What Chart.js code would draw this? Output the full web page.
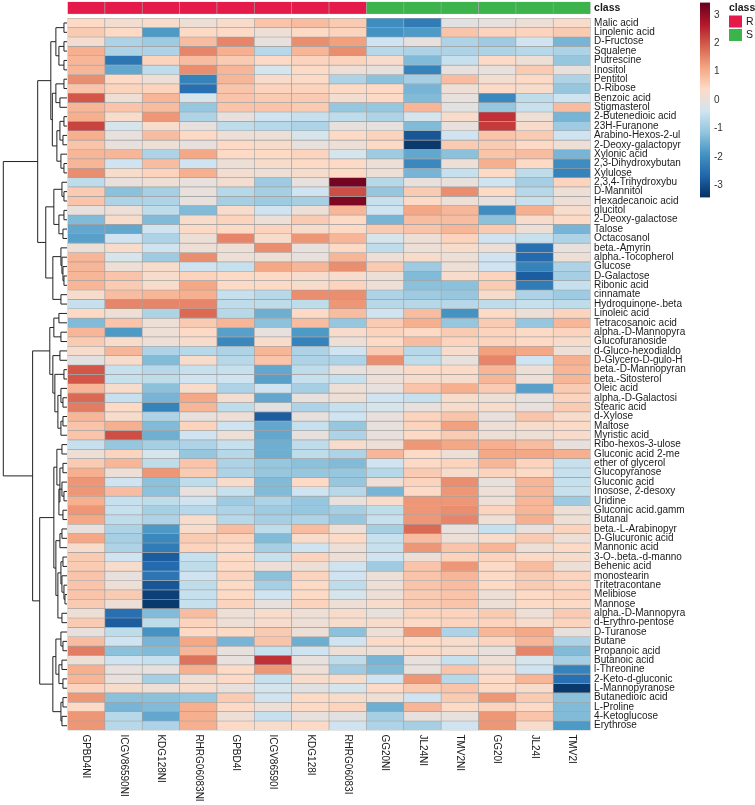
<!DOCTYPE html>
<html>
<head>
<meta charset="utf-8">
<script src="https://cdn.jsdelivr.net/npm/chart.js@4.4.1/dist/chart.umd.min.js"></script>
<style>
  html, body { margin: 0; padding: 0; background: #ffffff; }
  #wrap { width: 755px; height: 805px; position: relative; }
</style>
</head>
<body>
<div id="wrap"><canvas id="c" width="755" height="805"></canvas></div>
<script>
// ---------------- data ----------------
const colNames = ["GPBD4NI","ICGV86590NI","KDG128NI","RHRG06083NI","GPBD4I","ICGV86590I","KDG128I","RHRG06083I","GG20NI","JL24NI","TMV2NI","GG20I","JL24I","TMV2I"];
const colClass = ["R","R","R","R","R","R","R","R","S","S","S","S","S","S"];
const classNames = ["R","S"];
const classColors = ["#e6194b","#3cb44b"];

const rowNames = ["Malic acid","Linolenic acid","D-Fructose","Squalene","Putrescine","Inositol","Pentitol","D-Ribose","Benzoic acid","Stigmasterol","2-Butenedioic acid","23H-Furanone","Arabino-Hexos-2-ul","2-Deoxy-galactopyr","Xylonic acid","2,3-Dihydroxybutan","Xylulose","2,3,4-Trihydroxybu","D-Mannitol","Hexadecanoic acid","glucitol","2-Deoxy-galactose","Talose","Octacosanol","beta.-Amyrin","alpha.-Tocopherol","Glucose","D-Galactose","Ribonic acid","cinnamate","Hydroquinone-.beta","Linoleic acid","Tetracosanoic acid","alpha.-D-Mannopyra","Glucofuranoside","d-Gluco-hexodialdo","D-Glycero-D-gulo-H","beta.-D-Mannopyran","beta.-Sitosterol","Oleic acid","alpha.-D-Galactosi","Stearic acid","d-Xylose","Maltose","Myristic acid","Ribo-hexos-3-ulose","Gluconic acid 2-me","ether of glycerol","Glucopyranose","Gluconic acid","Inosose, 2-desoxy","Uridine","Gluconic acid.gamm","Butanal","beta.-L-Arabinopyr","D-Glucuronic acid","Mannonic acid","3-O-.beta.-d-manno","Behenic acid","monostearin","Tritetracontane","Melibiose","Mannose","alpha.-D-Mannopyra","d-Erythro-pentose","D-Turanose","Butane","Propanoic acid","Butanoic acid","l-Threonine","2-Keto-d-gluconic","L-Mannopyranose","Butanedioic acid","L-Proline","4-Ketoglucose","Erythrose"];

// scaled abundance, one row per metabolite, columns in colNames order
const heatValues = [
[0.4,0.2,0.3,0.1,0.3,0.7,0.8,0.6,-2.0,-2.3,-0.1,0.0,0.1,0.3],
[0.6,0.4,-1.8,0.4,0.4,0.1,0.4,0.5,-1.9,-1.8,0.7,0.5,0.5,0.6],
[0.2,-0.8,-1.0,0.8,1.5,0.0,1.4,1.2,-0.4,0.0,-0.8,-1.0,-0.4,-1.4],
[1.0,-0.8,-0.8,1.5,1.0,-0.7,0.9,1.4,-0.7,-0.8,-0.8,-0.8,-0.7,-0.8],
[0.9,-2.4,0.5,0.8,0.6,0.4,0.5,0.5,0.3,-1.3,-0.5,0.4,0.1,-1.1],
[0.9,-1.6,-0.6,1.4,0.9,-0.3,0.4,0.1,0.0,-2.2,0.0,0.0,0.6,0.0],
[1.4,0.4,0.1,-2.2,0.9,0.3,0.4,-0.8,-1.2,-0.9,0.8,0.2,0.4,-0.8],
[0.7,0.5,0.5,-2.5,0.7,0.5,0.5,0.4,0.4,-1.4,0.1,0.4,0.3,-1.1],
[2.0,0.1,0.9,-0.3,0.7,0.6,0.6,0.2,0.4,-1.3,0.0,-2.1,-0.6,-0.4],
[0.9,0.7,0.8,-1.1,0.7,0.7,0.6,-1.1,-1.1,0.9,-0.1,-1.1,-0.5,0.8],
[1.0,0.3,1.3,-0.8,0.0,-0.4,-0.5,-0.6,-0.8,-0.3,0.3,2.4,0.1,-1.4],
[2.2,-0.3,0.3,0.0,-0.6,-0.7,-0.8,0.0,0.0,-1.3,0.0,2.3,0.3,-1.0],
[1.0,0.0,0.8,0.4,0.1,0.1,-0.3,0.4,0.5,-2.9,-0.4,0.7,0.6,-0.4],
[0.7,0.0,0.1,0.0,0.4,0.3,0.0,0.1,0.4,-3.3,0.6,0.6,0.4,0.1],
[0.9,0.9,-0.8,1.1,0.4,0.4,0.5,-0.3,-1.0,-1.6,-1.2,0.7,0.8,-1.4],
[0.9,-0.4,0.8,-0.4,0.1,0.3,0.4,0.4,0.1,-2.1,0.1,1.0,0.4,-2.0],
[1.4,0.3,0.5,1.0,0.2,0.1,0.3,0.4,0.1,-1.4,-0.5,0.4,-0.6,-2.2],
[-0.6,0.0,0.1,0.0,0.2,-1.0,0.0,3.3,-0.7,0.0,0.0,-0.4,-0.9,0.5],
[0.6,-1.2,-0.9,0.0,-0.7,-0.9,-0.4,2.1,-1.1,0.6,1.4,0.4,-0.7,0.1],
[0.7,-0.8,-0.8,0.0,-0.9,-1.0,-0.9,3.2,-0.5,0.4,0.1,0.0,-0.5,0.1],
[0.0,0.1,-0.6,-1.3,0.3,-0.4,0.1,0.9,-0.4,1.1,0.9,-2.0,1.0,0.3],
[-1.3,0.3,-1.3,0.3,0.5,0.1,0.6,0.4,-1.4,0.8,0.8,-1.2,0.3,0.4],
[-1.6,-1.6,-0.4,0.4,0.4,0.5,0.3,0.4,0.6,0.7,0.9,0.6,0.1,-1.4],
[-1.7,-0.4,-0.8,0.1,1.5,0.3,1.3,0.9,-0.3,0.1,0.5,-0.4,-0.5,-0.8],
[0.1,0.3,-0.4,0.1,0.1,1.4,0.0,0.4,-0.6,0.1,0.3,0.1,-2.5,0.0],
[0.9,-0.3,-1.0,1.4,0.1,0.1,0.0,0.9,0.1,0.3,0.1,-0.4,-2.6,0.1],
[0.9,0.1,0.3,-0.4,-0.5,1.1,0.9,1.4,0.6,-1.0,0.1,-0.4,-2.2,-0.8],
[0.9,0.7,0.3,0.5,0.4,0.4,0.3,0.3,0.1,-1.3,0.3,0.5,-2.8,-0.9],
[0.9,0.6,0.3,1.1,0.4,0.4,0.3,0.5,0.1,-1.2,-1.2,0.6,-2.3,-0.5],
[0.3,0.8,0.9,1.0,-0.5,-0.7,1.4,1.4,-0.8,-1.0,-1.1,0.3,-0.8,-1.0],
[-0.5,1.5,1.5,1.5,-0.6,-0.6,-0.6,1.3,-0.7,-0.7,-0.7,-0.6,-0.5,-0.6],
[0.4,0.1,-0.8,1.8,-0.7,-1.5,0.4,0.8,-0.4,0.8,-1.9,0.4,0.1,0.5],
[-1.3,0.7,0.1,0.6,0.9,-1.2,0.8,-1.1,0.6,1.0,-1.1,0.6,-1.1,0.9],
[0.9,-1.8,0.1,0.4,-1.7,0.0,-1.8,0.3,0.5,0.4,0.6,0.5,0.4,0.5],
[0.6,0.3,0.1,0.3,-2.1,0.3,-2.2,0.1,0.4,0.8,0.5,0.5,0.4,0.3],
[0.3,0.9,-0.8,-0.7,-0.8,0.9,-0.8,-0.4,0.6,-0.7,0.3,1.2,1.1,0.1],
[-0.1,0.3,-1.3,0.3,-0.7,0.7,-0.8,-0.8,1.4,-0.6,0.0,1.5,-0.4,1.0],
[2.0,-0.5,-0.7,-0.5,-0.5,-1.6,-0.6,0.0,0.1,0.4,0.4,0.9,0.1,0.9],
[2.0,-0.5,-0.6,-0.4,-0.4,-1.7,-0.5,-0.5,0.1,0.3,0.3,0.9,0.1,0.9],
[0.9,0.3,-1.2,0.3,-0.8,-0.4,-0.9,0.1,0.0,0.7,1.0,0.6,-1.7,0.6],
[1.8,-0.5,-1.4,1.1,0.2,-1.6,0.0,0.1,-0.4,-0.5,0.3,0.1,0.0,0.5],
[1.6,0.4,-2.2,0.9,-0.6,-0.1,-0.8,-0.5,-0.3,0.0,0.3,0.3,0.0,0.6],
[0.9,0.3,-0.8,0.0,0.1,-2.8,0.0,-0.4,0.0,0.5,0.7,0.0,0.7,0.3],
[0.7,1.0,-1.3,0.5,-0.4,-1.6,-0.5,-1.1,0.0,0.5,1.2,0.1,0.3,0.4],
[0.7,2.1,-1.5,-0.4,0.1,-1.6,0.0,-0.8,0.0,0.4,0.6,0.1,0.1,0.3],
[-0.5,-1.1,-0.9,-0.8,-0.5,-1.5,-0.6,0.3,0.1,1.3,1.1,1.0,0.8,0.0],
[0.1,0.5,-0.3,-1.1,-0.7,-1.5,-0.6,-0.8,0.9,0.4,0.1,1.1,1.1,1.0],
[0.6,0.9,-0.6,0.7,-0.8,-1.1,-1.2,-1.3,-0.4,0.4,0.5,0.9,0.5,-0.5],
[1.0,0.1,1.3,0.6,-0.8,-1.1,-1.1,-1.1,-0.7,0.6,0.3,0.5,0.4,-0.5],
[1.3,-0.4,-1.2,-0.6,0.3,-1.3,0.4,-1.1,0.1,0.5,1.4,0.0,0.9,-0.5],
[1.3,0.8,-1.2,0.0,-0.5,-1.3,-0.4,-0.7,-1.4,0.4,1.3,0.1,0.9,-0.5],
[1.0,-0.5,-0.6,-0.4,-1.0,-0.8,-1.1,0.0,0.3,1.3,1.3,0.1,0.9,-1.0],
[1.3,-0.5,-0.9,-0.7,-0.8,-1.0,-1.1,-0.9,-0.6,1.3,1.4,0.5,0.9,0.1],
[1.1,-0.6,-0.8,0.3,-0.7,-0.9,-0.8,-1.1,-0.5,1.3,1.5,0.1,1.0,0.1],
[0.0,-0.8,-1.8,0.3,0.8,-0.6,0.8,0.1,-0.9,1.8,0.0,-0.5,0.0,0.5],
[1.1,-0.9,-2.1,0.6,0.5,-1.3,0.3,0.4,-0.5,0.8,0.1,0.3,0.6,0.1],
[0.3,-0.8,-2.3,0.5,0.4,-0.9,-0.4,0.1,-0.5,1.3,0.7,0.9,0.1,0.4],
[0.6,-0.4,-2.8,-0.5,0.4,-0.5,0.5,0.1,-0.4,0.1,0.5,0.5,0.4,0.3],
[0.6,0.3,-2.6,-0.6,0.4,0.1,0.1,-0.4,-1.0,0.7,1.3,0.4,0.8,0.1],
[0.7,0.0,-2.4,-0.4,0.5,-1.2,0.5,-0.4,0.1,0.7,0.9,0.4,0.6,0.5],
[0.7,0.1,-2.9,-0.6,0.4,-0.9,0.4,-0.6,0.1,0.7,0.8,0.4,0.6,0.5],
[0.7,0.6,-3.2,-0.5,0.4,-0.4,0.4,-0.3,0.1,0.6,0.7,0.1,0.4,0.5],
[0.6,0.1,-3.3,-0.5,0.5,0.0,0.5,0.1,0.3,0.6,0.7,0.1,0.4,0.4],
[0.1,-2.5,-1.3,0.8,0.1,0.3,0.1,0.3,0.0,0.5,0.5,0.6,0.1,0.6],
[0.6,-2.8,-0.6,0.5,0.1,0.3,0.1,0.3,0.3,0.4,0.5,0.5,0.3,0.5],
[0.0,-0.6,-1.9,0.4,0.4,0.6,0.1,-1.2,0.1,1.3,-0.8,0.9,1.1,0.0],
[0.8,-0.4,-1.4,1.1,-1.4,0.7,-1.5,-0.4,0.4,0.4,0.3,0.5,0.9,-0.8],
[1.6,-1.2,-1.3,0.9,0.0,-0.5,-0.4,0.1,0.1,0.4,0.3,0.0,1.5,-1.3],
[0.1,-0.4,-0.5,1.7,0.0,2.4,0.0,-0.6,-1.4,0.0,-0.5,0.1,-0.3,-0.9],
[1.0,0.0,0.0,1.0,0.4,1.3,0.1,-1.0,-1.3,0.0,0.7,0.3,-0.4,-2.2],
[0.9,0.0,-0.9,0.1,0.4,-0.5,0.3,0.3,-0.4,1.3,-0.7,0.4,0.9,-2.5],
[0.5,0.3,0.1,0.3,0.0,-0.3,-0.1,-0.3,0.4,0.6,0.7,0.4,0.3,-3.3],
[1.3,-1.2,-1.2,-1.1,0.6,-0.4,0.4,0.3,0.1,-0.4,0.6,1.3,0.6,-1.2],
[0.4,-1.4,-1.3,1.0,0.4,0.1,0.4,0.5,-1.5,0.9,0.4,0.5,0.4,-1.3],
[1.3,-0.7,-1.6,1.0,0.1,-0.5,0.0,-0.1,-0.9,0.0,0.0,1.3,0.7,-1.3],
[1.3,-0.7,-0.8,1.0,0.4,0.3,0.4,-0.4,-0.8,-0.9,-0.4,1.3,0.3,-1.8]
];

// row dendrogram: [mergeHeight, left, right]; leaves are row indices
const rowTree = [63,
  [29,
    [16,
      [11, [3,0,1], [8, [3,2,3], [3,4,5]]],
      [14.5,
        [11, [3,6,7], [7,8,9]],
        [10, [7, [3,10,11], [4,12,13]], [6, 14, [3,15,16]]]
      ]
    ],
    [21,
      [13, [5, 17, [3,18,19]], [8, [3,20,21], [4,22,23]]],
      [14, [6, 24, [5, 25, [4, 26, [3, 27, 28]]]], [6, 29, 30]]
    ]
  ],
  [34,
    [17,
      [13, [8,31,32], [6,33,34]],
      [14, [7,35,36], [12, [3,37,38], [9, [6,39,[4,40,41]], [6,[4,42,43],44]]]]
    ],
    [27,
      [13,
        [10, [5,45,46], [7, [4,47,48], [8, [5,49,[3,50,51]], [4,52,53]]]],
        [11, [7, [5,54,55], 56], [9, [6, [4,57,58], [5,59,[3,60,[2,61,62]]]], [5,63,64]]]
      ],
      [14,
        [11, [6, 65, [4,66,67]], [8, [5,68,69], [4,70,71]]],
        [6, [4,72,73], [5,74,75]]
      ]
    ]
  ]
];

const legendTicks = [3,2,1,0,-1,-2,-3];
const colorRange = 3.43;
const paletteStops = ["#053061","#2166AC","#4393C3","#92C5DE","#D1E5F0","#FDDBC7","#F4A582","#D6604D","#B2182B","#67001F"];

// ---------------- helpers ----------------
function hexToRgb(h){ return [parseInt(h.slice(1,3),16),parseInt(h.slice(3,5),16),parseInt(h.slice(5,7),16)]; }
const stopRgb = paletteStops.map(hexToRgb);
function heatColor(v){
  let t = (v + colorRange) / (2*colorRange);
  t = Math.max(0, Math.min(1, t));
  const seg = t * (stopRgb.length - 1);
  const i = Math.min(stopRgb.length - 2, Math.floor(seg));
  const f = seg - i;
  const a = stopRgb[i], b = stopRgb[i+1];
  const c = a.map((x,k) => Math.round(x + (b[k]-x)*f));
  return `rgb(${c[0]},${c[1]},${c[2]})`;
}

const nRows = rowNames.length;
const classBand = [-1.77, -0.46];
const FONT = "'Liberation Sans', Arial, sans-serif";

const datasets = [];
datasets.push({
  label: 'class',
  data: colNames.map((c,j) => ({x: c, y: classBand.slice(), cls: colClass[j]})),
  backgroundColor: ctx => classColors[classNames.indexOf(ctx.raw.cls)]
});
heatValues.forEach((row, i) => {
  datasets.push({
    label: rowNames[i],
    data: row.map((v,j) => ({x: colNames[j], y: [i, i+1], v: v})),
    backgroundColor: ctx => heatColor(ctx.raw.v)
  });
});

// ---------------- plugins ----------------
const decorPlugin = {
  id: 'decor',
  afterDraw(chart) {
    const ctx = chart.ctx;
    const xs = chart.scales.x, ys = chart.scales.y;
    const area = chart.chartArea;

    // column labels (rotated, reading downward)
    ctx.save();
    ctx.fillStyle = '#1a1a1a';
    ctx.font = `10px ${FONT}`;
    ctx.textAlign = 'left';
    ctx.textBaseline = 'middle';
    colNames.forEach((name, j) => {
      const px = xs.getPixelForValue(j);
      ctx.save();
      ctx.translate(px, area.bottom + 4);
      ctx.rotate(Math.PI / 2);
      ctx.fillText(name, 0, 0);
      ctx.restore();
    });
    ctx.restore();

    // row dendrogram
    const leafX = area.left - 0.5;
    const rootH = rowTree[0];
    const k = (area.left - 3.8) / rootH;
    const hx = h => leafX - h * k;
    ctx.save();
    ctx.strokeStyle = '#222';
    ctx.lineWidth = 1;
    ctx.beginPath();
    function walk(node) {
      if (typeof node === 'number') {
        return {x: leafX, y: ys.getPixelForValue(node + 0.5)};
      }
      const a = walk(node[1]), b = walk(node[2]);
      const nx = hx(node[0]);
      ctx.moveTo(a.x, a.y); ctx.lineTo(nx, a.y);
      ctx.moveTo(b.x, b.y); ctx.lineTo(nx, b.y);
      ctx.moveTo(nx, a.y); ctx.lineTo(nx, b.y);
      return {x: nx, y: (a.y + b.y) / 2};
    }
    walk(rowTree);
    ctx.stroke();
    ctx.restore();

    // colour key
    const barX = 700, barW = 10, zeroY = 100, unit = 28.4;
    const vy = v => zeroY - unit * v;
    const top = vy(colorRange), bot = vy(-colorRange);
    const grad = ctx.createLinearGradient(0, top, 0, bot);
    paletteStops.slice().reverse().forEach((c, i) => grad.addColorStop(i / (paletteStops.length - 1), c));
    ctx.save();
    ctx.fillStyle = grad;
    ctx.fillRect(barX, top, barW, bot - top);
    ctx.fillStyle = '#333';
    ctx.font = `10px ${FONT}`;
    ctx.textAlign = 'left';
    ctx.textBaseline = 'middle';
    legendTicks.forEach(t => ctx.fillText(String(t), barX + barW + 4, vy(t)));

    // class legend
    ctx.font = `bold 10.5px ${FONT}`;
    ctx.fillStyle = '#1a1a1a';
    ctx.fillText('class', 729, 8);
    ctx.font = `10.5px ${FONT}`;
    classNames.forEach((c, i) => {
      const y0 = 15.5 + i * 13.5;
      ctx.fillStyle = classColors[i];
      ctx.fillRect(729, y0, 13, 12);
      ctx.fillStyle = '#1a1a1a';
      ctx.fillText(c, 746, y0 + 6.5);
    });
    ctx.restore();
  }
};

// ---------------- chart ----------------
new Chart(document.getElementById('c'), {
  type: 'bar',
  data: { labels: colNames, datasets: datasets },
  options: {
    responsive: false,
    animation: false,
    events: [],
    layout: { padding: { left: 67.5, top: 1.7, right: 0, bottom: 74.6 } },
    datasets: {
      bar: {
        grouped: false,
        barPercentage: 1,
        categoryPercentage: 1,
        borderWidth: 0.65,
        borderColor: '#a3a3a3',
        borderSkipped: false
      }
    },
    plugins: { legend: { display: false }, tooltip: { enabled: false } },
    scales: {
      x: { type: 'category', display: false, offset: true },
      y: {
        type: 'linear',
        position: 'right',
        reverse: true,
        min: classBand[0],
        max: nRows,
        grid: { display: false, drawTicks: false },
        border: { display: false },
        afterBuildTicks: s => {
          s.ticks = [{value: (classBand[0] + classBand[1]) / 2}].concat(rowNames.map((_, i) => ({value: i + 0.5})));
        },
        afterFit: s => { s.width = 164.4; s.paddingTop = 0; s.paddingBottom = 0; },
        ticks: {
          autoSkip: false,
          padding: 3.5,
          color: '#1a1a1a',
          font: c => ({ family: FONT, size: c.tick && c.tick.value < 0 ? 10.5 : 10, weight: c.tick && c.tick.value < 0 ? 'bold' : 'normal' }),
          callback: v => v < 0 ? 'class' : rowNames[Math.round(v - 0.5)]
        }
      }
    }
  },
  plugins: [decorPlugin]
});
</script>
</body>
</html>
